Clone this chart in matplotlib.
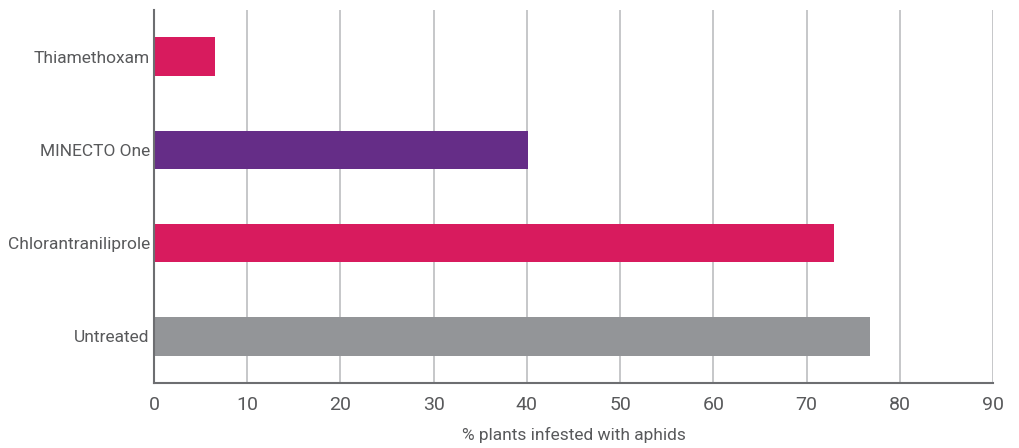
import matplotlib.pyplot as plt

treatments = ['Untreated', 'Chlorantraniliprole', 'MINECTO One', 'Thiamethoxam']
infested = [76.8, 72.9, 40.1, 6.5]
bar_colors = ['#939598', '#d81b5e', '#652d87', '#d81b5e']
xticks = [0, 10, 20, 30, 40, 50, 60, 70, 80, 90]

plt.rcParams['font.family'] = ['Roboto', 'DejaVu Sans']
text_color = '#58595b'

fig = plt.figure(figsize=(10.19, 4.48), dpi=100)
ax = fig.add_axes([0.1511, 0.145, 0.8234, 0.833])

ax.barh(range(len(treatments)), infested, height=0.41, color=bar_colors, zorder=3)

ax.set_xlim(0, 90)
ax.set_ylim(-0.5, 3.5)
ax.set_xticks(xticks)
ax.set_yticks(range(len(treatments)))
ax.set_yticklabels(treatments)
ax.tick_params(length=0, labelsize=12.5, colors=text_color)
ax.tick_params(axis='x', labelsize=14, pad=9)
ax.tick_params(axis='y', pad=3)

ax.grid(axis='x', color='#bcbec0', lw=1.2, zorder=0)
ax.grid(axis='y', visible=False)
for s in ['top', 'right']:
    ax.spines[s].set_visible(False)
for s in ['left', 'bottom']:
    ax.spines[s].set_color('#6d6e71')
    ax.spines[s].set_linewidth(1.5)
    ax.spines[s].set_zorder(4)

ax.set_xlabel('% plants infested with aphids', fontsize=12.5, color=text_color, labelpad=10)

fig.savefig('out.png', dpi=100)
